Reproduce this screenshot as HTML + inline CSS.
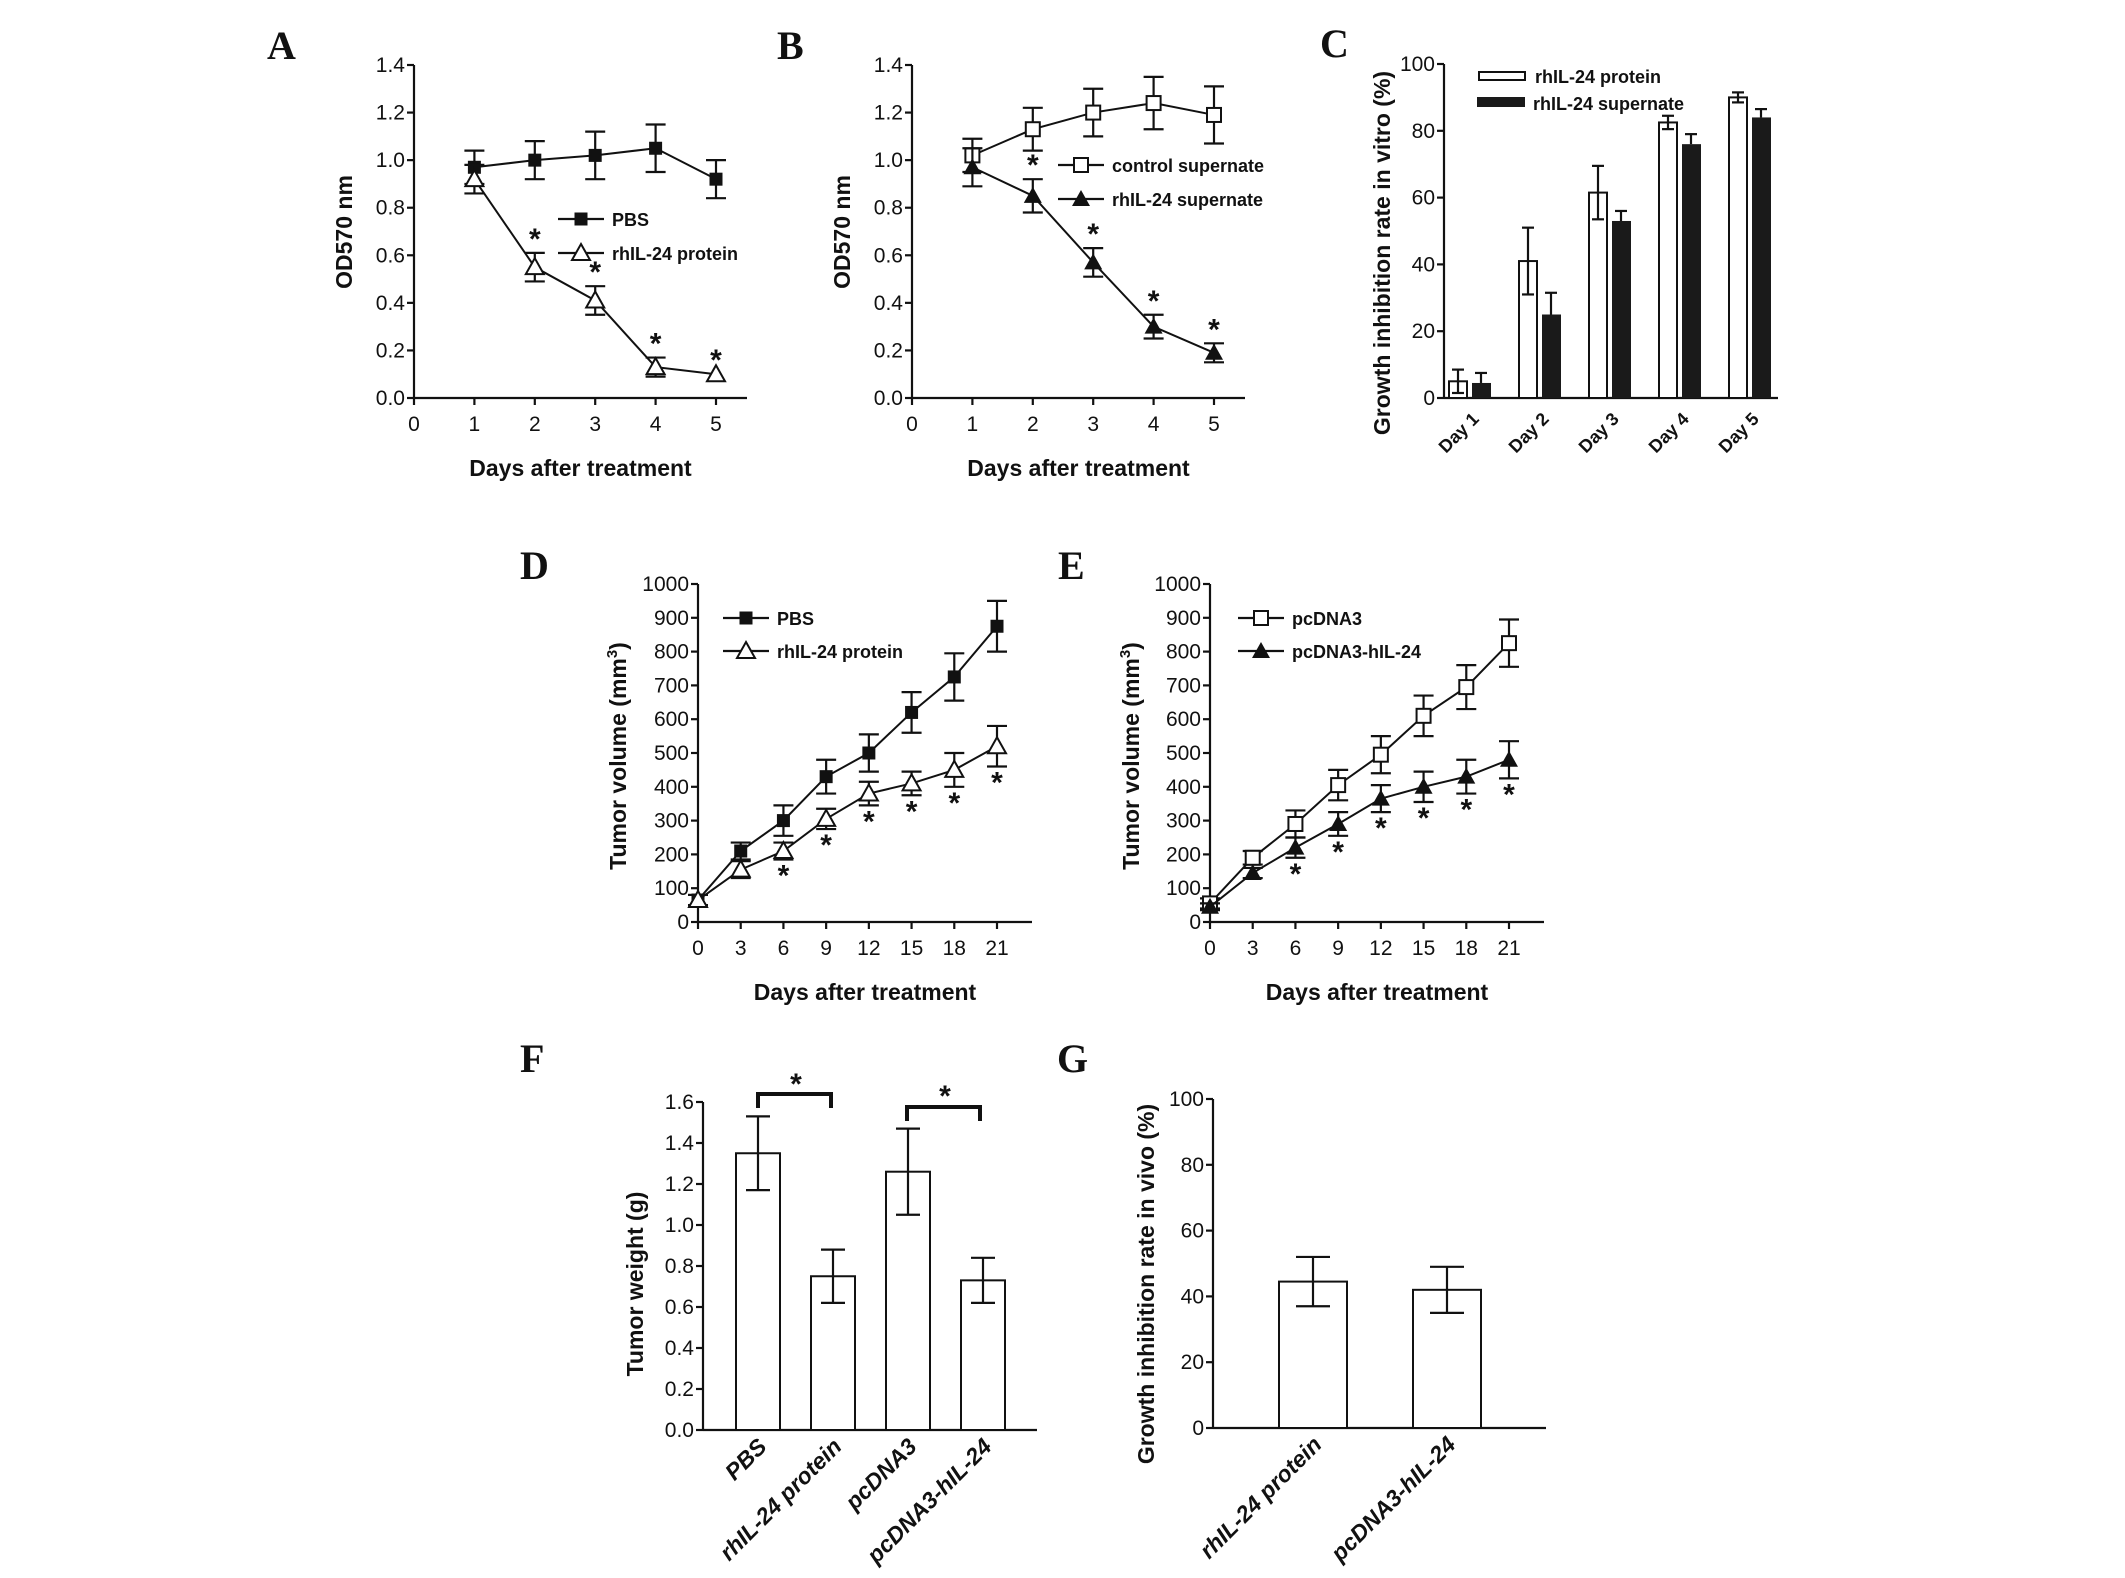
<!DOCTYPE html>
<html><head><meta charset="utf-8"><style>
body{margin:0;background:#fff}
svg{display:block}
text{font-family:"Liberation Sans",Arial,sans-serif;fill:#111}
.pl{font-family:"Liberation Serif",serif;font-weight:bold;font-size:40px}
.tk{font-size:21px}
.ti{font-size:23px;font-weight:bold}
.lg{font-size:18px;font-weight:bold}
.st{font-size:30px;font-weight:bold}
</style></head><body>
<svg id="fig" width="2125" height="1578" viewBox="0 0 2125 1578" xmlns="http://www.w3.org/2000/svg"></svg>
<script>
// Panel A
const aDays=[1,2,3,4,5];
const aPBS=[0.97,1.00,1.02,1.05,0.92];
const aPBSerr=[0.07,0.08,0.10,0.10,0.08];
const aProt=[0.92,0.55,0.41,0.13,0.10];
const aProtErr=[0.06,0.06,0.06,0.04,0.0];
// Panel B
const bCtrl=[1.02,1.13,1.20,1.24,1.19];
const bCtrlErr=[0.07,0.09,0.10,0.11,0.12];
const bSup=[0.97,0.85,0.57,0.30,0.19];
const bSupErr=[0.08,0.07,0.06,0.05,0.04];
const odTicks=["0.0","0.2","0.4","0.6","0.8","1.0","1.2","1.4"];
// Panel C
const cCats=["Day 1","Day 2","Day 3","Day 4","Day 5"];
const cProt=[5,41,61.5,82.5,90];
const cProtErr=[3.5,10,8,2,1.5];
const cSup=[4.5,25,53,76,84];
const cSupErr=[3,6.5,3,3,2.5];
const cTicks=["0","20","40","60","80","100"];
// Panel D
const dDays=[0,3,6,9,12,15,18,21];
const dPBS=[65,210,300,430,500,620,725,875];
const dPBSerr=[15,25,45,50,55,60,70,75];
const dProt=[65,155,210,305,380,410,450,520];
const dProtErr=[15,25,25,30,35,35,50,60];
// Panel E
const ePc=[55,190,290,405,495,610,695,825];
const ePcErr=[15,20,40,45,55,60,65,70];
const eIL=[45,145,220,290,365,400,430,480];
const eILErr=[10,15,30,35,40,45,50,55];
const volTicks=["0","100","200","300","400","500","600","700","800","900","1000"];
// Panel F
const fCats=["PBS","rhIL-24 protein","pcDNA3","pcDNA3-hIL-24"];
const fVals=[1.35,0.75,1.26,0.73];
const fErr=[0.18,0.13,0.21,0.11];
const fTicks=["0.0","0.2","0.4","0.6","0.8","1.0","1.2","1.4","1.6"];
// Panel G
const gCats=["rhIL-24 protein","pcDNA3-hIL-24"];
const gVals=[44.5,42];
const gErr=[7.5,7];
const gTicks=["0","20","40","60","80","100"];

const NS="http://www.w3.org/2000/svg";
const svg=document.getElementById('fig');
function el(tag,attrs,parent,txt){const e=document.createElementNS(NS,tag);for(const k in attrs)e.setAttribute(k,attrs[k]);if(txt!==undefined)e.textContent=txt;(parent||svg).appendChild(e);return e;}
function grp(name){const g=el('g',{});return g;}
const S={stroke:'#111','stroke-width':2.2,fill:'none'};

function axes(g,ax){
  el('line',{x1:ax.x0,y1:ax.yTop,x2:ax.x0,y2:ax.y0,...S},g);
  el('line',{x1:ax.x0,y1:ax.y0,x2:ax.xEnd,y2:ax.y0,...S},g);
  ax.yt.forEach((t,i)=>{const y=ax.y0-(ax.y0-ax.yTop)*i/(ax.yt.length-1);
    el('line',{x1:ax.x0-7,y1:y,x2:ax.x0,y2:y,...S},g);
    const tx=el('text',{x:ax.x0-9,y:y+7,'text-anchor':'end',class:'tk'},g,t);
    });
}
function label(txt,x,y){const t=el('text',{x:x,y:y,class:'pl'},svg,txt);}
function marker(g,type,x,y){
  if(type==='sqF')el('rect',{x:x-6.5,y:y-6.5,width:13,height:13,fill:'#111'},g);
  if(type==='sqO')el('rect',{x:x-7,y:y-7,width:14,height:14,fill:'#fff',stroke:'#111','stroke-width':2},g);
  if(type==='trF')el('path',{d:`M${x} ${y-9}L${x+9} ${y+7}L${x-9} ${y+7}Z`,fill:'#111'},g);
  if(type==='trO')el('path',{d:`M${x} ${y-9}L${x+9} ${y+7}L${x-9} ${y+7}Z`,fill:'#fff',stroke:'#111','stroke-width':2},g);
}
function lineChart(o){
  const g=grp(o.name);
  const ax=o.ax;
  axes(g,ax);
  const X=v=>ax.x0+(v-ax.xmin)/(ax.xmax-ax.xmin)*(ax.xPix-ax.x0);
  const Y=v=>ax.y0-(v-0)/(ax.ymax)*(ax.y0-ax.yTop);
  o.xt.forEach(t=>{const x=X(t);el('line',{x1:x,y1:ax.y0,x2:x,y2:ax.y0+7,...S},g);
    const tx=el('text',{x:x,y:ax.y0+33,'text-anchor':'middle',class:'tk'},g,String(t));
    });
  o.series.forEach((s,si)=>{
    const sg=el('g',{},g);
    el('polyline',{points:o.xs.map((d,i)=>X(d)+','+Y(s.v[i])).join(' '),...S,'stroke-width':2},sg);
    o.xs.forEach((d,i)=>{const x=X(d),y=Y(s.v[i]);
      if(s.e[i]>0){el('line',{x1:x,y1:Y(s.v[i]-s.e[i]),x2:x,y2:Y(s.v[i]+s.e[i]),...S},sg);
        [s.v[i]-s.e[i],s.v[i]+s.e[i]].forEach(v=>el('line',{x1:x-10,y1:Y(v),x2:x+10,y2:Y(v),...S},sg));}
      marker(sg,s.m,x,y);
      if(s.star&&s.star[i]){const sy=s.starPos==='above'?Y(s.v[i]+s.e[i])-4:Y(s.v[i]-s.e[i])+26;
        el('text',{x:x,y:sy,'text-anchor':'middle',class:'st'},sg,'*');}
    });
  });
  o.legend.forEach((l,i)=>{const lg=el('g',{},g);
    el('line',{x1:l.x,y1:l.y,x2:l.x+46,y2:l.y,...S},lg);marker(lg,l.m,l.x+23,l.y);
    el('text',{x:l.x+54,y:l.y+7,class:'lg'},lg,l.t);});
  const xt=el('text',{x:(ax.x0+ax.xEnd)/2,y:ax.y0+78,'text-anchor':'middle',class:'ti'},g,'Days after treatment');
  
  const yt=el('text',{x:0,y:0,'text-anchor':'middle',class:'ti',transform:`translate(${o.yTitle[0]},${o.yTitle[1]}) rotate(-90)`},g);
  
  yt.innerHTML=o.yLabel;
}
const odAx=x0=>({x0:x0,xPix:x0+302,xmin:0,xmax:5,xEnd:x0+333,y0:398,yTop:65,ymax:1.4,yt:odTicks});
lineChart({name:'panel-a-chart',ax:odAx(414),xt:[0,1,2,3,4,5],xs:aDays,
  series:[{key:'pbs',v:aPBS,e:aPBSerr,m:'sqF'},{key:'rhil24-protein',v:aProt,e:aProtErr,m:'trO',star:[0,1,1,1,1],starPos:'above'}],
  legend:[{x:558,y:219,m:'sqF',t:'PBS'},{x:558,y:253,m:'trO',t:'rhIL-24 protein'}],
  yTitle:[352,232],yLabel:'OD570 nm'});
lineChart({name:'panel-b-chart',ax:odAx(912),xt:[0,1,2,3,4,5],xs:aDays,
  series:[{key:'control-supernate',v:bCtrl,e:bCtrlErr,m:'sqO'},{key:'rhil24-supernate',v:bSup,e:bSupErr,m:'trF',star:[0,1,1,1,1],starPos:'above'}],
  legend:[{x:1058,y:165,m:'sqO',t:'control supernate'},{x:1058,y:199,m:'trF',t:'rhIL-24 supernate'}],
  yTitle:[850,232],yLabel:'OD570 nm'});
const volAx=x0=>({x0:x0,xPix:x0+299,xmin:0,xmax:21,xEnd:x0+334,y0:922,yTop:584,ymax:1000,yt:volTicks});
const volLabel='Tumor volume (mm<tspan dy="-9" font-size="15">3</tspan><tspan dy="9">)</tspan>';
lineChart({name:'panel-d-chart',ax:volAx(698),xt:dDays,xs:dDays,
  series:[{key:'pbs',v:dPBS,e:dPBSerr,m:'sqF'},{key:'rhil24-protein',v:dProt,e:dProtErr,m:'trO',star:[0,0,1,1,1,1,1,1],starPos:'below'}],
  legend:[{x:723,y:618,m:'sqF',t:'PBS'},{x:723,y:651,m:'trO',t:'rhIL-24 protein'}],
  yTitle:[626,756],yLabel:volLabel});
lineChart({name:'panel-e-chart',ax:volAx(1210),xt:dDays,xs:dDays,
  series:[{key:'pcdna3',v:ePc,e:ePcErr,m:'sqO'},{key:'pcdna3-hil24',v:eIL,e:eILErr,m:'trF',star:[0,0,1,1,1,1,1,1],starPos:'below'}],
  legend:[{x:1238,y:618,m:'sqO',t:'pcDNA3'},{x:1238,y:651,m:'trF',t:'pcDNA3-hIL-24'}],
  yTitle:[1139,756],yLabel:volLabel});

function errBar(g,x,yLo,yHi,hw){el('line',{x1:x,y1:yLo,x2:x,y2:yHi,...S},g);
  el('line',{x1:x-hw,y1:yLo,x2:x+hw,y2:yLo,...S},g);el('line',{x1:x-hw,y1:yHi,x2:x+hw,y2:yHi,...S},g);}

// Panel C
(function(){
  const g=grp('panel-c-chart');
  const ax={x0:1444,xEnd:1778,y0:398,yTop:64,yt:cTicks};axes(g,ax);
  const Y=v=>ax.y0-v/100*(ax.y0-ax.yTop);
  cCats.forEach((c,i)=>{const cx=1470+i*70;
    const b1=el('rect',{x:cx-21,y:Y(cProt[i]),width:18,height:ax.y0-Y(cProt[i]),fill:'#fff',stroke:'#111','stroke-width':2},g);
    
    errBar(g,cx-12,Y(cProt[i]-cProtErr[i]),Y(cProt[i]+cProtErr[i]),6);
    const b2=el('rect',{x:cx+2,y:Y(cSup[i]),width:19,height:ax.y0-Y(cSup[i]),fill:'#1a1a1a'},g);
    
    el('line',{x1:cx+11,y1:Y(cSup[i]),x2:cx+11,y2:Y(cSup[i]+cSupErr[i]),...S},g);
    el('line',{x1:cx+5,y1:Y(cSup[i]+cSupErr[i]),x2:cx+17,y2:Y(cSup[i]+cSupErr[i]),...S},g);
    el('text',{x:0,y:0,'text-anchor':'end',class:'lg',transform:`translate(${cx+10},${ax.y0+22}) rotate(-45)`},g,c);
  });
  el('rect',{x:1479,y:72,width:46,height:8,fill:'#fff',stroke:'#111','stroke-width':2},g);
  el('text',{x:1535,y:83,class:'lg'},g,'rhIL-24 protein');
  el('rect',{x:1477,y:97,width:48,height:10,fill:'#1a1a1a'},g);
  el('text',{x:1533,y:110,class:'lg'},g,'rhIL-24 supernate');
  el('text',{x:0,y:0,'text-anchor':'middle',class:'ti',transform:'translate(1390,253) rotate(-90)'},g,'Growth inhibition rate in vitro (%)');
})();

// Panel F
(function(){
  const g=grp('panel-f-chart');
  const ax={x0:703,xEnd:1037,y0:1430,yTop:1102,yt:fTicks};axes(g,ax);
  const Y=v=>ax.y0-v/1.6*(ax.y0-ax.yTop);
  fCats.forEach((c,i)=>{const cx=758+i*75;
    const b=el('rect',{x:cx-22,y:Y(fVals[i]),width:44,height:ax.y0-Y(fVals[i]),fill:'#fff',stroke:'#111','stroke-width':2},g);
    
    errBar(g,cx,Y(fVals[i]-fErr[i]),Y(fVals[i]+fErr[i]),12);
    el('text',{x:0,y:0,'text-anchor':'end',class:'ti','font-style':'italic',transform:`translate(${cx+10},${ax.y0+18}) rotate(-45)`},g,c);
  });
  el('path',{d:'M758 1108V1094H831V1108',stroke:'#111','stroke-width':4,fill:'none'},g);
  el('text',{x:796,y:1094,'text-anchor':'middle',class:'st'},g,'*');
  el('path',{d:'M907 1121V1107H980V1121',stroke:'#111','stroke-width':4,fill:'none'},g);
  el('text',{x:945,y:1106,'text-anchor':'middle',class:'st'},g,'*');
  el('text',{x:0,y:0,'text-anchor':'middle',class:'ti',transform:'translate(643,1284) rotate(-90)'},g,'Tumor weight (g)');
})();

// Panel G
(function(){
  const g=grp('panel-g-chart');
  const ax={x0:1213,xEnd:1546,y0:1428,yTop:1099,yt:gTicks};axes(g,ax);
  const Y=v=>ax.y0-v/100*(ax.y0-ax.yTop);
  gCats.forEach((c,i)=>{const cx=1313+i*134;
    const b=el('rect',{x:cx-34,y:Y(gVals[i]),width:68,height:ax.y0-Y(gVals[i]),fill:'#fff',stroke:'#111','stroke-width':2},g);
    
    errBar(g,cx,Y(gVals[i]-gErr[i]),Y(gVals[i]+gErr[i]),17);
    el('text',{x:0,y:0,'text-anchor':'end',class:'ti','font-style':'italic',transform:`translate(${cx+10},${ax.y0+18}) rotate(-45)`},g,c);
  });
  el('text',{x:0,y:0,'text-anchor':'middle',class:'ti',transform:'translate(1154,1284) rotate(-90)'},g,'Growth inhibition rate in vivo (%)');
})();

label('A',267,59);label('B',777,59);label('C',1320,57);
label('D',520,579);label('E',1058,579);label('F',520,1072);label('G',1057,1072);
</script>
</body></html>
